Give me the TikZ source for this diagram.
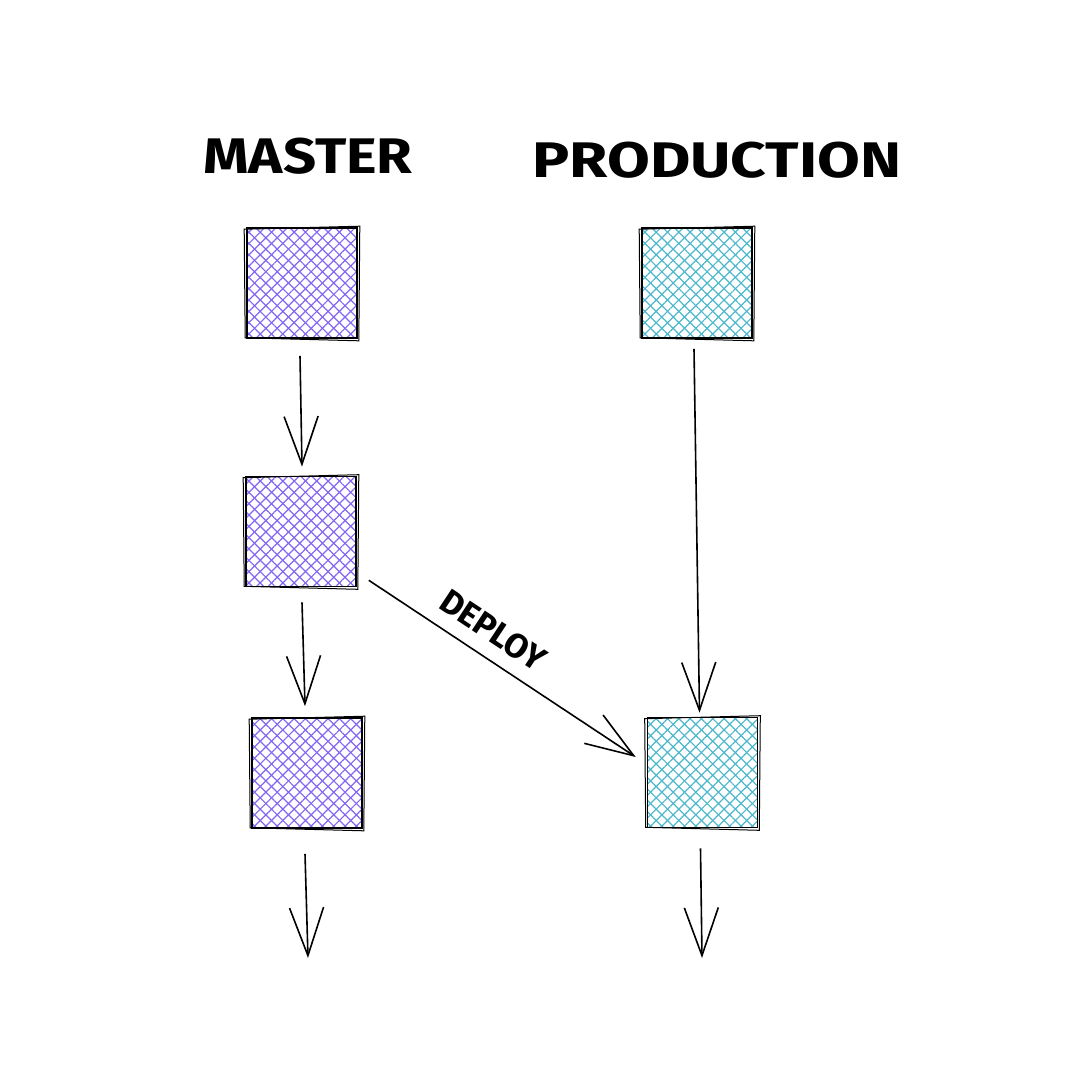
\documentclass[tikz,border=0pt]{standalone}
\usepackage{fontspec}
\setmainfont{Fira Sans}
\usetikzlibrary{arrows.meta,patterns.meta,calc}
\definecolor{hpurple}{HTML}{8466F2}
\definecolor{hcyan}{HTML}{4DB8CB}
\tikzset{
  box/.style={draw=black, line width=1.6pt, minimum width=110pt, minimum height=110pt, inner sep=0pt,
    preaction={pattern={Lines[angle=45,distance=8pt,line width=1.2pt]}, pattern color=#1},
    preaction={pattern={Lines[angle=-45,distance=8pt,line width=1.2pt]}, pattern color=#1}},
  rough/.style={draw=black, line width=1.0pt},
  flow/.style={line width=1.6pt, -{Straight Barb[length=48pt,width=34pt,line width=1.6pt]}},
  title/.style={font=\fontsize{50}{50}\selectfont\fontseries{sb}\selectfont, inner sep=0pt},
}
\begin{document}
\begin{tikzpicture}[x=1pt,y=-1pt]
\useasboundingbox (0,0) rectangle (1074,1092);
\fill[white] (0,0) rectangle (1074,1092);

\node[title, xscale=1.16] (tm) at (308,156) {MASTER};
\node[title, xscale=1.24] (tp) at (717,160) {PRODUCTION};

\node[box=hpurple] (m1) at (302,283) {};
\node[box=hpurple] (m2) at (301,531.5) {};
\node[box=hpurple] (m3) at (307,773) {};
\node[box=hcyan] (p1) at (697,283) {};
\node[box=hcyan] (p2) at (702.5,772.5) {};

\foreach \n in {m1,m2,m3,p1,p2}{
  \draw[rough] ($(\n.north west)+(-2,2)$) -- ($(\n.north east)+(2,-1)$)
    -- ($(\n.south east)+(1,2)$) -- ($(\n.south west)+(-1,-1)$) -- cycle;
}

\coordinate (m4) at (308,958);
\coordinate (p3) at (702,958);

\draw[flow] ($(m1.south)+(-2,17)$) -- ($(m2.north)+(1,-9)$);
\draw[flow] ($(m2.south)+(1,15)$) -- ($(m3.north)+(-2,-11)$);
\draw[flow] ($(m3.south)+(-2,25)$) -- (m4);
\draw[flow] ($(p1.south)+(-3,10)$) -- ($(p2.north)+(-3,-4)$);
\draw[flow] ($(p2.south)+(-2,20)$) -- (p3);
\draw[flow] ($(m2.south east)+(12,-7)$) -- node[pos=0.41, sloped, above=14pt, inner sep=0pt, font=\fontsize{34}{34}\selectfont\fontseries{sb}\selectfont] (dl) {DEPLOY} ($(p2.west)+(-11,-15.5)$);
\end{tikzpicture}
\end{document}
